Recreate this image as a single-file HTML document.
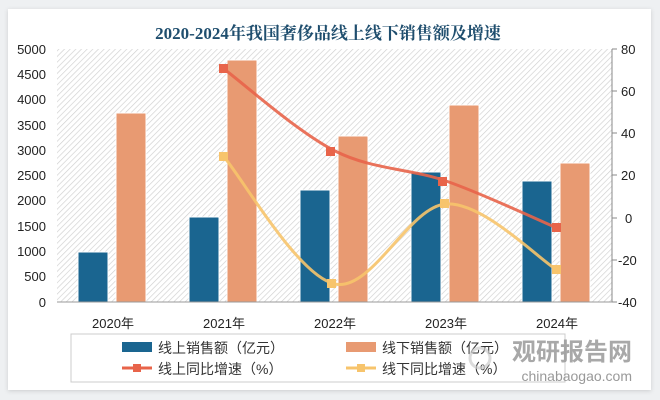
<!DOCTYPE html>
<html><head><meta charset="utf-8"><style>
html,body{margin:0;padding:0;background:#eef0f2;}
svg{display:block;font-family:"Liberation Sans","Noto Sans CJK SC",sans-serif;}
</style></head><body>
<svg width="660" height="400" viewBox="0 0 660 400">
<defs>
<pattern id="h" width="4" height="4" patternUnits="userSpaceOnUse" patternTransform="rotate(45)">
<rect width="4" height="4" fill="#ffffff"/><line x1="0" y1="0" x2="0" y2="4" stroke="#cfcfcf" stroke-width="1.3"/>
</pattern>
<filter id="sh"><feDropShadow dx="0" dy="1" stdDeviation="2" flood-color="#000" flood-opacity="0.15"/></filter>
</defs>
<rect x="8" y="9" width="643" height="381" fill="#fff" filter="url(#sh)"/>
<text x="328" y="39" text-anchor="middle" font-size="17" font-weight="bold" fill="#1f4e6e" font-family="'Liberation Serif','Noto Serif CJK SC',serif">2020-2024年我国奢侈品线上线下销售额及增速</text>
<rect x="57" y="49" width="555" height="253" fill="url(#h)"/>
<g font-size="13" fill="#222" text-anchor="end">
<text x="46" y="54">5000</text><text x="46" y="79">4500</text><text x="46" y="104">4000</text><text x="46" y="130">3500</text><text x="46" y="155">3000</text><text x="46" y="180">2500</text><text x="46" y="205">2000</text><text x="46" y="231">1500</text><text x="46" y="256">1000</text><text x="46" y="281">500</text><text x="46" y="307">0</text>
</g>
<line x1="612" y1="49" x2="612" y2="302" stroke="#888"/>
<g stroke="#888"><line x1="612" y1="49" x2="617" y2="49"/><line x1="612" y1="91" x2="617" y2="91"/><line x1="612" y1="133" x2="617" y2="133"/><line x1="612" y1="175" x2="617" y2="175"/><line x1="612" y1="218" x2="617" y2="218"/><line x1="612" y1="260" x2="617" y2="260"/><line x1="612" y1="302" x2="617" y2="302"/></g>
<g font-size="13" fill="#222">
<text x="621" y="54">80</text><text x="621" y="96">60</text><text x="621" y="138">40</text><text x="621" y="180">20</text><text x="625" y="223">0</text><text x="618" y="265">-20</text><text x="618" y="307">-40</text>
</g>
<g fill="#1a6590" stroke="#fff" stroke-width="1">
<rect x="78" y="252" width="30" height="50"/><rect x="189" y="217" width="30" height="85"/><rect x="300" y="190" width="30" height="112"/><rect x="411" y="172" width="30" height="130"/><rect x="522" y="181" width="30" height="121"/>
</g>
<g fill="#e89a72" stroke="#fff" stroke-width="1">
<rect x="116" y="113" width="30" height="189"/><rect x="227" y="60" width="30" height="242"/><rect x="338" y="136" width="30" height="166"/><rect x="449" y="105" width="30" height="197"/><rect x="560" y="163" width="30" height="139"/>
</g>
<line x1="57" y1="302" x2="612" y2="302" stroke="#999"/>
<path d="M224,69 C242.5,82.7 298,132.3 335,151 C372,169.7 409,168.2 446,181 C483,193.8 538.5,220.2 557,228" fill="none" stroke="#e8644a" stroke-width="3" opacity="0.9"/>
<g fill="#e8644a"><rect x="219" y="64" width="9" height="9"/><rect x="326" y="147" width="9" height="9"/><rect x="438" y="177" width="9" height="9"/><rect x="552" y="223" width="9" height="9"/></g>
<path d="M224,157 C242.5,178.2 298,276.2 335,284 C372,291.8 409,206.3 446,204 C483,201.7 538.5,259 557,270" fill="none" stroke="#f7c46c" stroke-width="3" opacity="0.9"/>
<g fill="#f7c46c"><rect x="219" y="152" width="9" height="9"/><rect x="327" y="279" width="9" height="9"/><rect x="440" y="199" width="9" height="9"/><rect x="552" y="265" width="9" height="9"/></g>
<g font-size="13" fill="#222" text-anchor="middle">
<text x="113" y="328">2020年</text><text x="224" y="328">2021年</text><text x="335" y="328">2022年</text><text x="446" y="328">2023年</text><text x="557" y="328">2024年</text>
</g>
<rect x="71" y="334" width="494" height="48" fill="#fff" stroke="#ccc"/>
<g font-size="14" fill="#333">
<rect x="122" y="342" width="30" height="10" fill="#1a6590"/><text x="158" y="353">线上销售额（亿元）</text>
<rect x="346" y="342" width="30" height="10" fill="#e89a72"/><text x="382" y="353">线下销售额（亿元）</text>
<line x1="122" y1="368" x2="152" y2="368" stroke="#e8644a" stroke-width="3"/><rect x="133" y="364" width="8" height="8" fill="#e8644a"/><text x="158" y="374">线上同比增速（%）</text>
<line x1="346" y1="368" x2="376" y2="368" stroke="#f7c46c" stroke-width="3"/><rect x="357" y="364" width="8" height="8" fill="#f7c46c"/><text x="382" y="374">线下同比增速（%）</text>
</g>
<circle cx="480" cy="358" r="10" fill="none" stroke="#ccc" stroke-width="3" opacity="0.7"/>
<text x="632" y="360" text-anchor="end" font-size="24" font-weight="bold" fill="#999" opacity="0.85">观研报告网</text>
<text x="632" y="381" text-anchor="end" font-size="14" fill="#999">chinabaogao.com</text>
</svg>
</body></html>
